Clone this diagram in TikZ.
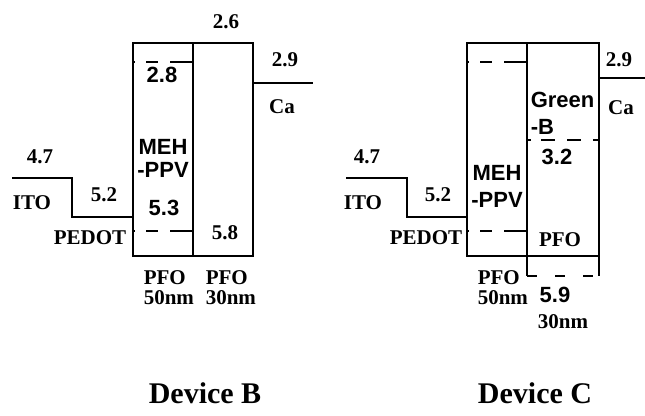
\documentclass[tikz,border=0pt]{standalone}
\usepackage{fontspec}
\setmainfont{Liberation Serif}
\setsansfont{Liberation Sans}
\begin{document}
\begin{tikzpicture}[
    x=1pt, y=-1pt,
    line width=1.5pt,
    hdash/.style={dash pattern=on 2pt off 11pt on 12pt off 12pt on 30pt},
    rdash/.style={dash pattern=on 4pt off 10pt on 14pt off 12pt on 14pt off 12pt on 20pt},
    num/.style={font=\fontsize{21}{23}\selectfont\bfseries, inner sep=0pt},
    snum/.style={font=\fontsize{22}{24}\selectfont\sffamily\bfseries, inner sep=0pt},
    title/.style={font=\fontsize{30}{32}\selectfont\bfseries, inner sep=0pt}
]
\useasboundingbox (0,0) rectangle (645,415);

% Device B
\coordinate (itoB) at (12,178);
\coordinate (pedB) at (133,217);
\draw (itoB) -- (72,178) -- (72,217) -- (pedB);
\draw (133,43) rectangle (193,256);
\draw (193,43) rectangle (253,256);
\draw[hdash] (133,62) -- (193,62);
\draw[hdash] (133,231) -- (193,231);
\draw (253,83) -- (313,83);

\node[num] (b26) at (226,22) {2.6};
\node[snum] (b28) at (162,75) {2.8};
\node[num] (b29) at (285,60) {2.9};
\node[num] (bca) at (282,107) {Ca};
\node[num] (b47) at (40,157) {4.7};
\node[num] (bito) at (32,203) {ITO};
\node[num] (b52) at (104,195) {5.2};
\node[num] (bped) at (90,238) {PEDOT};
\node[snum] (bmeh) at (163,147) {MEH};
\node[snum] (bppv) at (163,170) {-PPV};
\node[snum] (b53) at (164,208) {5.3};
\node[num] (b58) at (225,233) {5.8};
\node[num, align=left, anchor=north west] (bpfo1) at (143,270) {PFO\\[-3pt]50nm};
\node[num, align=left, anchor=north west] (bpfo2) at (205,270) {PFO\\[-3pt]30nm};
\node[title] (devB) at (205,393) {Device B};

% Device C
\coordinate (itoC) at (346,178);
\coordinate (pedC) at (467,217);
\draw (itoC) -- (407,178) -- (407,217) -- (pedC);
\draw (467,43) rectangle (527,256);
\draw (527,43) -- (599,43) -- (599,276) (527,43) -- (527,276) (527,256) -- (599,256);
\draw[dash pattern=on 10pt off 18pt] (527,276) -- (599,276);
\draw[hdash] (467,62) -- (527,62);
\draw[hdash] (467,231) -- (527,231);
\draw[rdash] (527,140) -- (599,140);
\draw (599,78) -- (645,78);

\node[num] (c29) at (619,60) {2.9};
\node[num] (cca) at (621,108) {Ca};
\node[num] (c47) at (367,157) {4.7};
\node[num] (cito) at (363,203) {ITO};
\node[num] (c52) at (438,195) {5.2};
\node[num] (cped) at (426,238) {PEDOT};
\node[snum] (cmeh) at (497,173) {MEH};
\node[snum] (cppv) at (497,200) {-PPV};
\node[snum, anchor=west] (cgreen) at (530,100) {Green};
\node[snum, anchor=west] (cb) at (530,127) {-B};
\node[snum] (c32) at (557,157) {3.2};
\node[num] (cpfo) at (560,240) {PFO};
\node[num, align=left, anchor=north west] (cpfo1) at (477,270) {PFO\\[-3pt]50nm};
\node[snum] (c59) at (555,295) {5.9};
\node[num] (c30) at (563,322) {30nm};
\node[title] (devC) at (535,393) {Device C};
\end{tikzpicture}
\end{document}
